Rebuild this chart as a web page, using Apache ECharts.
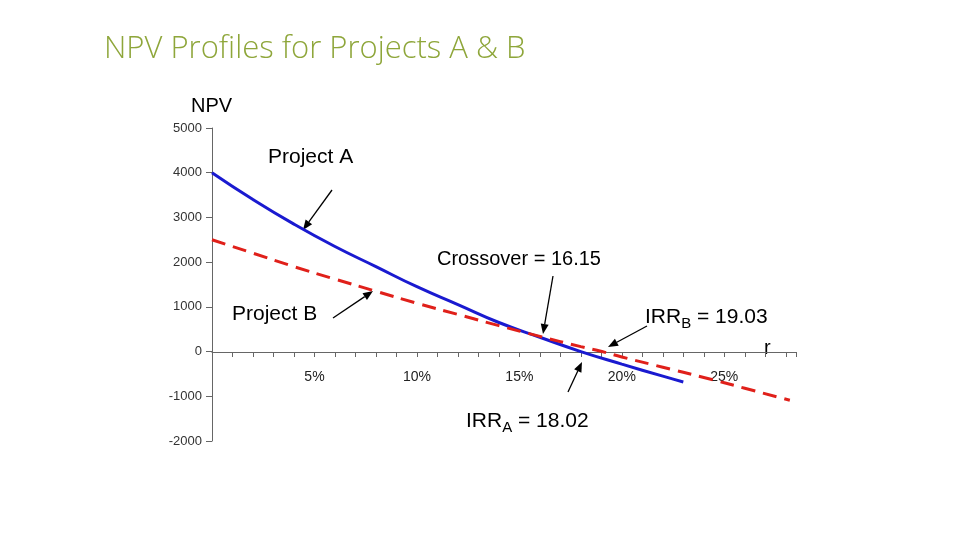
<!DOCTYPE html>
<html><head><meta charset="utf-8">
<script src="https://cdn.jsdelivr.net/npm/echarts@6/dist/echarts.min.js"></script>
<style>html,body{margin:0;background:#fff}#c{width:960px;height:540px}</style>
</head><body><div id="c"></div>
<script>
const ratesA = [0, 2, 4, 6, 8, 10, 12, 14, 16, 18, 20, 22, 23];
const npvA = [4000, 3400, 2850, 2350, 1900, 1450, 1050, 650, 320, 0, -280, -550, -680];
const ratesB = [0, 2, 4, 6, 8, 10, 12, 14, 16, 18, 19.03, 20, 22, 24, 26, 28.2];
const npvB = [2500, 2200, 1900, 1620, 1350, 1080, 830, 580, 340, 110, 0, -120, -350, -580, -820, -1090];
const yTicks = [-2000, -1000, 0, 1000, 2000, 3000, 4000, 5000];

const chart = echarts.init(document.getElementById('c'));
function arrow(x1, y1, x2, y2) {
  const a = Math.atan2(y2 - y1, x2 - x1), L = 10, W = 4;
  const bx = x2 - L * Math.cos(a), by = y2 - L * Math.sin(a);
  return [
    {type: 'line', shape: {x1, y1, x2: bx, y2: by}, style: {stroke: '#000', lineWidth: 1.3}},
    {type: 'polygon', shape: {points: [[x2, y2], [bx - W * Math.sin(a), by + W * Math.cos(a)], [bx + W * Math.sin(a), by - W * Math.cos(a)]]}, style: {fill: '#000'}}
  ];
}
const txt = (x, y, t, size) => ({type: 'text', x, y, style: {text: t, font: (size || 20) + 'px "Liberation Sans", Arial', fill: '#000'}});
chart.setOption({
  animation: false,
  grid: {left: 212, right: 164, top: 128, bottom: 99},
  xAxis: {type: 'value', min: 0, max: 28.5, interval: 1, offset: -89,
    axisLine: {onZero: false, lineStyle: {color: '#666'}},
    axisTick: {show: true, length: 5, lineStyle: {color: '#666'}},
    splitLine: {show: false},
    axisLabel: {margin: 18, color: '#222', fontSize: 14, fontFamily: 'Liberation Sans',
      formatter: v => (v > 0 && v % 5 === 0) ? v + '%' : ''}},
  yAxis: {type: 'value', min: yTicks[0], max: yTicks[yTicks.length - 1], interval: 1000,
    axisLine: {show: true, lineStyle: {color: '#666'}},
    axisTick: {show: true, length: 6, lineStyle: {color: '#666'}},
    splitLine: {show: false},
    axisLabel: {color: '#333', fontSize: 13, fontFamily: 'Liberation Sans', margin: 10, formatter: v => String(v)}},
  series: [
    {type: 'line', data: ratesA.map((r, i) => [r, npvA[i]]), smooth: true, symbol: 'none', clip: false,
      lineStyle: {color: '#1a1ad0', width: 3}},
    {type: 'line', data: ratesB.map((r, i) => [r, npvB[i]]), smooth: true, symbol: 'none', clip: false,
      lineStyle: {color: '#e0201a', width: 3, type: [14, 8]}}
  ],
  graphic: [
    {type: 'text', x: 104, y: 34, style: {text: 'NPV Profiles for Projects A & B', font: '300 31px "Open Sans"', fill: '#8ea63a'}},
    txt(191, 96, 'NPV', 20),
    txt(268, 147, 'Project A', 21),
    txt(437, 249, 'Crossover = 16.15', 20),
    txt(232, 304, 'Project B', 21),
    {type: 'text', x: 645, y: 304, style: {rich: {n: {font: '21px "Liberation Sans"', fill: '#000'}, s: {font: '15px "Liberation Sans"', fill: '#000', padding: [12, 0, 0, 0]}}, text: '{n|IRR}{s|B}{n| = 19.03}'}},
    txt(764, 338, 'r', 20),
    {type: 'text', x: 466, y: 408, style: {rich: {n: {font: '21px "Liberation Sans"', fill: '#000'}, s: {font: '15px "Liberation Sans"', fill: '#000', padding: [12, 0, 0, 0]}}, text: '{n|IRR}{s|A}{n| = 18.02}'}},
    ...arrow(332, 190, 303, 230),
    ...arrow(553, 276, 543, 334),
    ...arrow(333, 318, 373, 291),
    ...arrow(647, 326, 608, 347),
    ...arrow(568, 392, 582, 362)
  ]
});
</script></body></html>
